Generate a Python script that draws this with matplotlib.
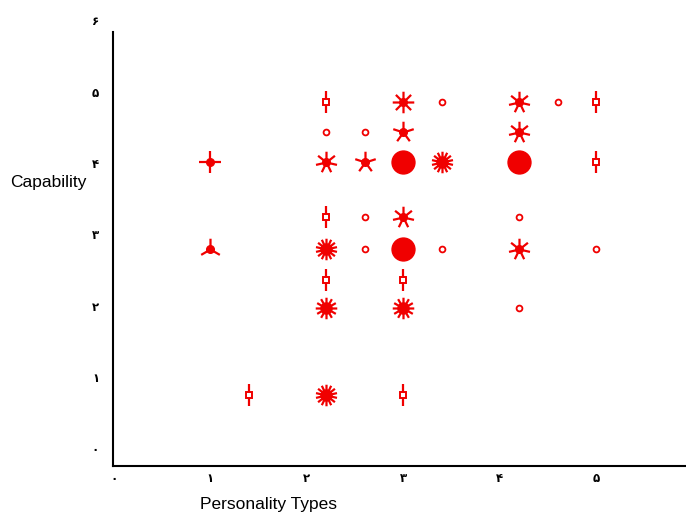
import numpy as np
import matplotlib
matplotlib.use("Agg")
import matplotlib.pyplot as plt
from matplotlib.path import Path

# ---------------- data ----------------
x_vals = [2.2, 3.0, 3.4, 4.2, 4.6, 5.0,
          2.2, 2.6, 3.0, 4.2,
          1.0, 2.2, 2.6, 3.0, 3.4, 4.2, 5.0,
          2.2, 2.6, 3.0, 4.2,
          1.0, 2.2, 2.6, 3.0, 3.4, 4.2, 5.0,
          2.2, 3.0,
          2.2, 3.0, 4.2,
          1.4, 2.2, 3.0]
y_vals = [4.86, 4.86, 4.86, 4.86, 4.86, 4.86,
          4.44, 4.44, 4.44, 4.44,
          4.02, 4.02, 4.02, 4.02, 4.02, 4.02, 4.02,
          3.24, 3.24, 3.24, 3.24,
          2.79, 2.79, 2.79, 2.79, 2.79, 2.79, 2.79,
          2.36, 2.36,
          1.96, 1.96, 1.96,
          0.74, 0.74, 0.74]
counts = [2, 8, 1, 7, 1, 2,
          1, 1, 5, 7,
          4, 7, 5, 40, 14, 40, 2,
          2, 1, 7, 1,
          3, 14, 1, 40, 1, 7, 1,
          2, 2,
          12, 12, 1,
          2, 14, 2]

x_ticks = [0, 1, 2, 3, 4, 5]
x_tick_labels = ['۰', '۱', '۲', '۳', '۴', '۵']
y_ticks = [0, 1, 2, 3, 4, 5, 6]
y_tick_labels = ['۰', '۱', '۲', '۳', '۴', '۵', '۶']

x_title = 'Personality Types'
y_title = 'Capability'

RED = '#f00000'

# ---------------- figure ----------------
W, H = 686, 513
fig = plt.figure(figsize=(W / 100, H / 100), dpi=100)
ax_bottom_px, ax_top_px = 466, 13.2
ax = fig.add_axes([113 / W, 1 - ax_bottom_px / H, 573 / W, (ax_bottom_px - ax_top_px) / H])
ax.set_xlim(-0.01, 5.93)
ax.set_ylim(-0.25, 6.1)


def petal_path(n):
    verts, codes = [], []
    for k in range(n):
        a = np.pi / 2 + 2 * np.pi * k / n
        verts += [(0, 0), (np.cos(a), np.sin(a))]
        codes += [Path.MOVETO, Path.LINETO]
    return Path(verts, codes)


for xv, yv, n in zip(x_vals, y_vals, counts):
    if n == 1:
        ax.plot([xv], [yv], linestyle='none', marker='o', markersize=4.2,
                mfc='white', mec=RED, mew=1.3, zorder=3)
    else:
        ax.plot([xv], [yv], linestyle='none', marker=petal_path(n),
                markersize=15.5, mfc='none', mec=RED,
                mew=2.2 if n >= 20 else 1.6, zorder=3)
        if n >= 20:
            ax.plot([xv], [yv], linestyle='none', marker='o', markersize=16.5,
                    mfc=RED, mec=RED, zorder=4)
        elif n >= 10:
            ax.plot([xv], [yv], linestyle='none', marker='o', markersize=8,
                    mfc=RED, mec=RED, zorder=4)
        elif n == 2:
            ax.plot([xv], [yv], linestyle='none', marker='s', markersize=4,
                    mfc='white', mec=RED, mew=1.4, zorder=4)
        else:
            ax.plot([xv], [yv], linestyle='none', marker='o', markersize=5.5,
                    mfc=RED, mec=RED, zorder=4)

ax.spines['top'].set_visible(False)
ax.spines['right'].set_visible(False)
ax.spines['left'].set_linewidth(1.5)
ax.spines['bottom'].set_linewidth(1.5)
ax.spines['left'].set_bounds(-0.25, 5.84)

ax.set_xticks(x_ticks)
ax.set_xticklabels(x_tick_labels, fontfamily='DejaVu Sans', fontsize=8.5, fontweight='bold')
ax.set_yticks(y_ticks)
ax.set_yticklabels(y_tick_labels, fontfamily='DejaVu Sans', fontsize=8.5, fontweight='bold')
ax.tick_params(axis='x', length=0, pad=4)
ax.tick_params(axis='y', length=0, pad=10)

fig.text(10 / W, 1 - 182 / H, y_title, ha='left', va='center',
         fontsize=12.5, fontfamily='Liberation Sans')
fig.text(200 / W, 1 - 504 / H, x_title, ha='left', va='center',
         fontsize=12.5, fontfamily='Liberation Sans')

fig.savefig('out.png', dpi=100)
